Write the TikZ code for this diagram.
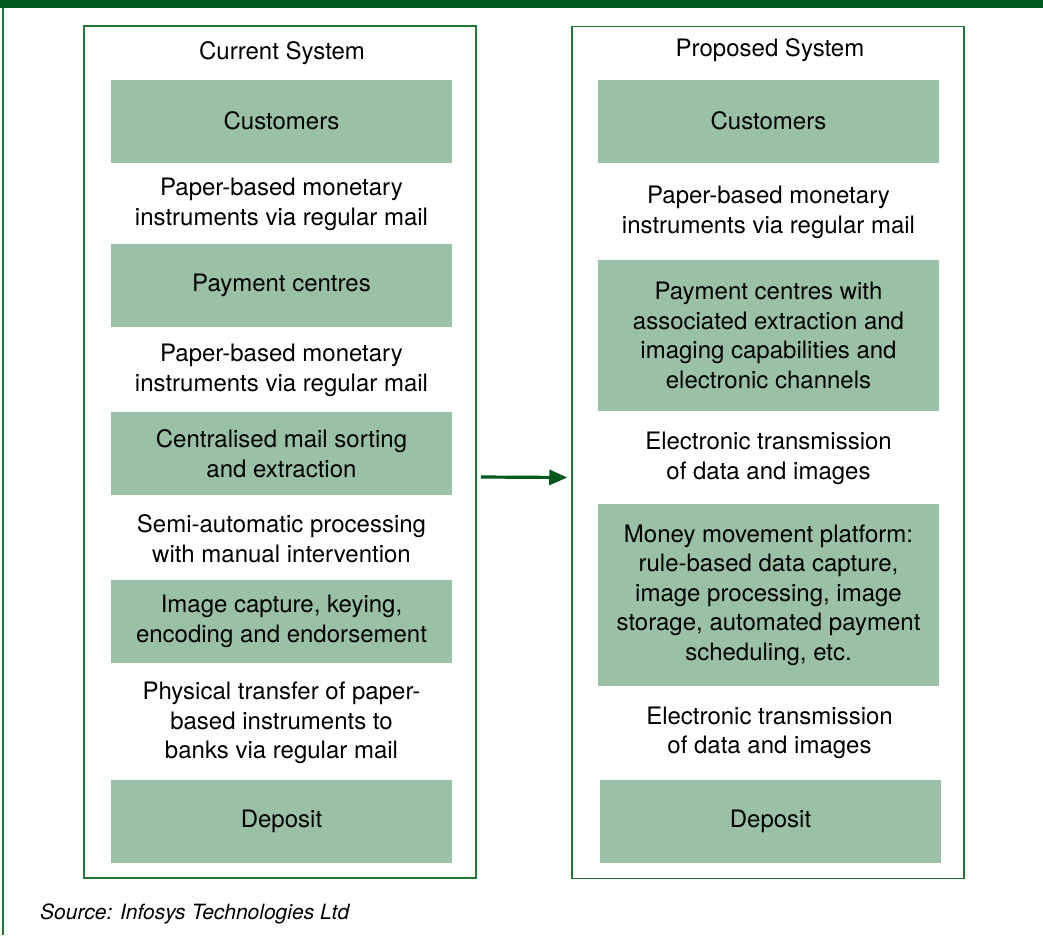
\documentclass[tikz,border=0pt]{standalone}
\usepackage{fontspec}
\setmainfont{TeX Gyre Heros}
\usepackage{xcolor}
\usetikzlibrary{arrows.meta,positioning,calc}
\definecolor{barfill}{RGB}{0,90,30}
\definecolor{paneledge}{RGB}{30,120,50}
\definecolor{stagefill}{RGB}{154,193,165}
\tikzset{
    panel/.style={
        rectangle, draw=paneledge, line width=1.5pt, fill=white,
        minimum width=392pt, minimum height=852pt, inner sep=0pt
    },
    stagebox/.style={
        rectangle, fill=stagefill, align=center,
        minimum width=341pt, minimum height=83pt, inner sep=2pt,
        font=\fontsize{24}{29.5}\selectfont
    },
    steplbl/.style={align=center, inner sep=0pt,
        font=\fontsize{24}{29.5}\selectfont},
    flow/.style={-{Triangle[length=18pt,width=15pt]}, line width=3.2pt, draw=barfill}
}

\begin{document}
\begin{tikzpicture}[x=1pt, y=-1pt]
    \useasboundingbox (0,0) rectangle (1043,935);
    % frame: title bar and left rule
    \fill[barfill] (0,0) rectangle (1043,8);
    \draw[paneledge, line width=2pt] (3,8) -- (3,935);
    % the two columns
    \node[panel] (cur) at (280,452) {};
    \node[panel] (prop) at (768,452.5) {};
    \node[steplbl] (h1) at (282,53) {Current System};
    \node[steplbl] (h2) at (770,50) {Proposed System};
    % Current system
    \node[stagebox] (c1) at (281.5,121) {Customers};
    \node[stagebox] (c2) at (281.5,285.5) {Payment centres};
    \node[stagebox] (c3) at (281.5,453.5) {Centralised mail sorting\\and extraction};
    \node[stagebox] (c4) at (281.5,621.5) {Image capture, keying,\\encoding and endorsement};
    \node[stagebox] (c5) at (281.5,821) {Deposit};
    \node[steplbl] at ($(c1.south)!0.5!(c2.north)+(0,1)$) {Paper-based monetary\\instruments via regular mail};
    \node[steplbl] at ($(c2.south)!0.5!(c3.north)+(0,1)$) {Paper-based monetary\\instruments via regular mail};
    \node[steplbl] at ($(c3.south)!0.5!(c4.north)+(0,1)$) {Semi-automatic processing\\with manual intervention};
    \node[steplbl] at ($(c4.south)!0.5!(c5.north)+(0,2)$) {Physical transfer of paper-\\based instruments to\\banks via regular mail};
    % Proposed system
    \node[stagebox] (p1) at (768.5,121) {Customers};
    \node[stagebox, minimum height=151pt] (p2) at (768.5,335.5)
        {Payment centres with\\associated extraction and\\imaging capabilities and\\electronic channels};
    \node[stagebox, minimum height=182pt] (p3) at (768.5,595)
        {Money movement platform:\\rule-based data capture,\\image processing, image\\storage, automated payment\\scheduling, etc.};
    \node[stagebox] (p4) at (770.5,821) {Deposit};
    \node[steplbl] at ($(p1.south)!0.5!(p2.north)+(0,1)$) {Paper-based monetary\\instruments via regular mail};
    \node[steplbl] at ($(p2.south)!0.5!(p3.north)+(0,1)$) {Electronic transmission\\of data and images};
    \node[steplbl] at ($(p3.south)!0.5!(p4.north)$) {Electronic transmission\\of data and images};
    % current -> proposed
    \draw[flow] ([xshift=4pt,yshift=-25pt]cur.east) -- ([xshift=-4pt,yshift=-25pt]prop.west);
    \node[anchor=west, inner sep=0pt, font=\fontsize{21}{25}\selectfont\itshape]
        (src) at (40,914) {Source: Infosys Technologies Ltd};
\end{tikzpicture}
\end{document}
